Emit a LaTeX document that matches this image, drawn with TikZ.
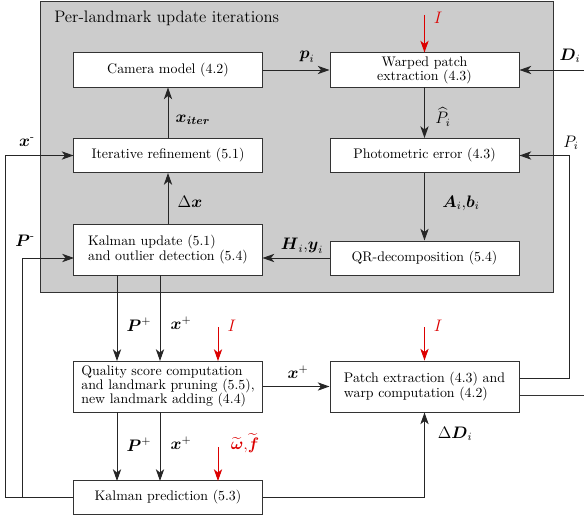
\documentclass[tikz,border=0pt]{standalone}
\usepackage{amsmath,amssymb}
\usetikzlibrary{arrows.meta}
\definecolor{myred}{RGB}{220,0,0}
\tikzset{
  blk/.style={draw=black!80, fill=white, line width=0.7pt, inner sep=0pt, font=\normalsize},
  arr/.style={draw=black!85, line width=0.7pt, -{Stealth[length=8.5pt,width=6pt,inset=2.4pt]}},
  ln/.style={draw=black!80, line width=0.7pt},
  rarr/.style={draw=myred, line width=0.7pt, -{Stealth[length=8.5pt,width=6pt,inset=2.4pt]}},
  lab/.style={inner sep=0pt, font=\large},
}
\begin{document}
\begin{tikzpicture}[x=0.72pt,y=-0.72pt]
\useasboundingbox (0,0) rectangle (584,520);
% gray region
\filldraw[fill=gray!40, draw=black!80, line width=0.7pt] (40,1.5) rectangle (553,292);
\node[anchor=west, font=\large, inner sep=0pt] (title) at (54,18) {Per-landmark update iterations};
% boxes
\node[blk, minimum width=135.4pt, minimum height=24.5pt] (cam) at (168,70) {Camera model (4.2)};
\node[blk, minimum width=136.1pt, minimum height=24.5pt, align=center] (warp) at (424.5,70) {Warped patch\\[-2pt]extraction (4.3)};
\node[blk, minimum width=135.4pt, minimum height=24.5pt] (iter) at (168,155.5) {Iterative refinement (5.1)};
\node[blk, minimum width=136.1pt, minimum height=24.5pt] (photo) at (424.5,155.5) {Photometric error (4.3)};
\node[blk, minimum width=135.4pt, minimum height=36.7pt, align=left] (ku) at (168,249.5) {Kalman update (5.1)\\[-1pt]and outlier detection (5.4)};
\node[blk, minimum width=136.1pt, minimum height=24.5pt] (qr) at (424.5,258) {QR-decomposition (5.4)};
\node[blk, minimum width=135.4pt, minimum height=36.7pt, align=left] (qs) at (168,386.5) {Quality score computation\\[-2pt]and landmark pruning (5.5),\\[-2pt]new landmark adding (4.4)};
\node[blk, minimum width=136.1pt, minimum height=36.7pt, align=left] (pe) at (424.5,386.5) {Patch extraction (4.3) and\\[-1pt]warp computation (4.2)};
\node[blk, minimum width=135.4pt, minimum height=23.8pt] (kp) at (168,497.5) {Kalman prediction (5.3)};
% coordinates
\coordinate (dR) at (584,70);
\coordinate (i1) at (424.5,15);
\coordinate (pA) at (569,378);
\coordinate (pB) at (584,395);
\coordinate (xm) at (5,497.5);
\coordinate (pm) at (22,497.5);
\coordinate (kuin) at (74,258);
\coordinate (kuA) at (117,275);
\coordinate (kuB) at (160,275);
\coordinate (qsA) at (117,361);
\coordinate (qsB) at (160,361);
\coordinate (qsC) at (117,412);
\coordinate (qsD) at (160,412);
\coordinate (kpA) at (117,481);
\coordinate (kpB) at (160,481);
\coordinate (r2) at (218,327);
\coordinate (r2e) at (218,361);
\coordinate (r3) at (218,447);
\coordinate (r3e) at (218,481);
\coordinate (r4) at (424.5,327);
\coordinate (dd) at (424.5,497.5);
% connectors
\draw[arr] (cam) -- (warp);
\draw[arr] (dR) -- (warp.east);
\draw[rarr] (i1) -- (warp.north);
\draw[arr] (warp) -- (photo);
\draw[arr] (photo) -- (qr);
\draw[arr] (qr.west) -- (kuin -| ku.east);
\draw[arr] (ku) -- (iter);
\draw[arr] (iter) -- (cam);
\draw[arr] (pe.east |- pA) -- (pA) |- (photo.east);
\draw[ln] (pe.east |- pB) -- (pB);
\draw[arr] (kp.west) -- (xm) |- (iter.west);
\draw[arr] (pm) |- (kuin);
\draw[arr] (kuA) -- (qsA);
\draw[arr] (kuB) -- (qsB);
\draw[rarr] (r2) -- (r2e);
\draw[arr] (qsC) -- (kpA);
\draw[arr] (qsD) -- (kpB);
\draw[rarr] (r3) -- (r3e);
\draw[arr] (qs.east) -- (pe.west);
\draw[rarr] (r4) -- (pe.north);
\draw[arr] (kp.east) -- (dd) -- (pe.south);
% labels
\node[lab] (lp) at (307,57) {$\boldsymbol{p}_i$};
\node[lab] (ld) at (570,56) {$\boldsymbol{D}_i$};
\node[lab, text=myred] (li1) at (438,18) {$I$};
\node[lab] (lph) at (443,117) {$\widehat{P}_i$};
\node[lab] (lab1) at (461,203) {$\boldsymbol{A}_i{,}\boldsymbol{b}_i$};
\node[lab] (lhy) at (302,246) {$\boldsymbol{H}_i{,}\boldsymbol{y}_i$};
\node[lab] (ldx) at (190,202) {$\Delta\boldsymbol{x}$};
\node[lab] (lxi) at (193,120) {$\boldsymbol{x}_{\boldsymbol{iter}}$};
\node[lab] (lpi) at (571,143) {$P_i$};
\node[lab] (lxm) at (27,142) {$\boldsymbol{x}^{\text{-}}$};
\node[lab] (lpm) at (25,241) {$\boldsymbol{P}^{\text{-}}$};
\node[lab] (lpp1) at (139,325) {$\boldsymbol{P}^+$};
\node[lab] (lxp1) at (181,323) {$\boldsymbol{x}^+$};
\node[lab, text=myred] (li2) at (232,326) {$I$};
\node[lab] (lpp2) at (139,445) {$\boldsymbol{P}^+$};
\node[lab] (lxp2) at (181,443) {$\boldsymbol{x}^+$};
\node[lab, text=myred] (lwf) at (245,443) {$\widetilde{\boldsymbol{\omega}}{,}\widetilde{\boldsymbol{f}}$};
\node[lab] (lxp3) at (298,372) {$\boldsymbol{x}^+$};
\node[lab, text=myred] (li3) at (438,326) {$I$};
\node[lab] (ldd) at (455,434) {$\Delta\boldsymbol{D}_i$};
\end{tikzpicture}
\end{document}
